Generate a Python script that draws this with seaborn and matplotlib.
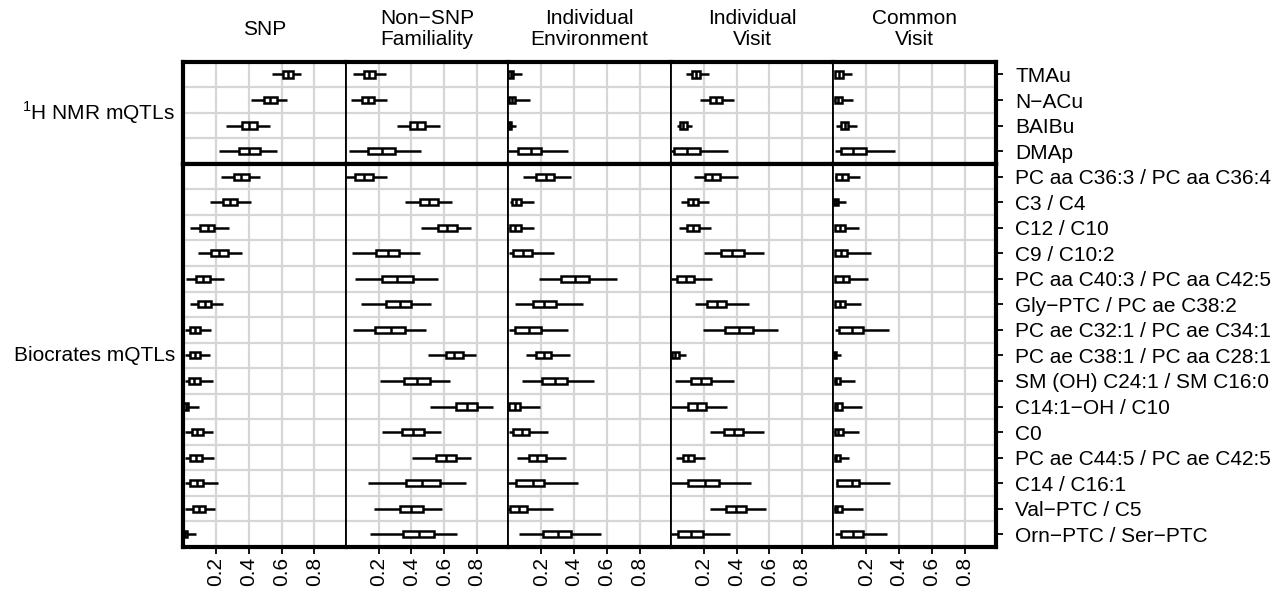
import numpy as np
import pandas as pd
import matplotlib
matplotlib.use("Agg")
import matplotlib.pyplot as plt
import seaborn as sns

M = "\u2212"  # R-style minus sign

nmr_metabolites = ["TMAu", f"N{M}ACu", "BAIBu", "DMAp"]
biocrates_metabolites = [
    "PC aa C36:3 / PC aa C36:4", "C3 / C4", "C12 / C10", "C9 / C10:2",
    "PC aa C40:3 / PC aa C42:5", f"Gly{M}PTC / PC ae C38:2",
    "PC ae C32:1 / PC ae C34:1", "PC ae C38:1 / PC aa C28:1",
    "SM (OH) C24:1 / SM C16:0", f"C14:1{M}OH / C10", "C0",
    "PC ae C44:5 / PC ae C42:5", "C14 / C16:1", f"Val{M}PTC / C5",
    f"Orn{M}PTC / Ser{M}PTC",
]
metabolites = nmr_metabolites + biocrates_metabolites
groups = ["$^{1}$H NMR mQTLs", "Biocrates mQTLs"]
components = ["SNP", f"Non{M}SNP\nFamiliality", "Individual\nEnvironment",
              "Individual\nVisit", "Common\nVisit"]

# per metabolite: whisker low, lower quartile, median, upper quartile, whisker high
snp = [
    (0.54, 0.61, 0.64, 0.67, 0.72), (0.41, 0.49, 0.53, 0.57, 0.63),
    (0.26, 0.355, 0.40, 0.45, 0.53), (0.22, 0.34, 0.40, 0.47, 0.57),
    (0.23, 0.31, 0.35, 0.40, 0.47), (0.16, 0.24, 0.285, 0.33, 0.41),
    (0.043, 0.10, 0.15, 0.19, 0.28), (0.09, 0.17, 0.22, 0.27, 0.36),
    (0.018, 0.08, 0.12, 0.165, 0.25), (0.04, 0.09, 0.13, 0.17, 0.24),
    (0.012, 0.04, 0.07, 0.10, 0.17), (0.012, 0.043, 0.07, 0.10, 0.165),
    (0.012, 0.035, 0.067, 0.10, 0.18), (0.0, 0.0, 0.018, 0.03, 0.094),
    (0.012, 0.053, 0.084, 0.12, 0.18), (0.012, 0.043, 0.08, 0.116, 0.19),
    (0.012, 0.043, 0.084, 0.12, 0.21), (0.012, 0.057, 0.094, 0.13, 0.196),
    (0.0, 0.0, 0.01, 0.02, 0.078),
]
non_snp = [
    (0.043, 0.11, 0.143, 0.18, 0.247), (0.033, 0.096, 0.135, 0.173, 0.25),
    (0.314, 0.39, 0.435, 0.48, 0.573), (0.018, 0.133, 0.222, 0.30, 0.46),
    (0.0, 0.057, 0.112, 0.167, 0.25), (0.36, 0.453, 0.506, 0.56, 0.65),
    (0.457, 0.563, 0.62, 0.675, 0.763), (0.039, 0.186, 0.257, 0.324, 0.45),
    (0.053, 0.22, 0.314, 0.41, 0.56), (0.094, 0.247, 0.33, 0.40, 0.52),
    (0.043, 0.18, 0.273, 0.36, 0.49), (0.50, 0.61, 0.66, 0.716, 0.794),
    (0.21, 0.357, 0.435, 0.512, 0.635), (0.516, 0.67, 0.737, 0.80, 0.90),
    (0.22, 0.343, 0.41, 0.476, 0.58), (0.404, 0.55, 0.61, 0.67, 0.763),
    (0.137, 0.367, 0.467, 0.573, 0.733), (0.173, 0.333, 0.40, 0.47, 0.588),
    (0.149, 0.35, 0.445, 0.537, 0.678),
]
ind_env = [
    (0.0, 0.0, 0.014, 0.03, 0.084), (0.0, 0.006, 0.022, 0.043, 0.13),
    (0.0, 0.0, 0.01, 0.018, 0.047), (0.0, 0.057, 0.135, 0.20, 0.363),
    (0.088, 0.17, 0.227, 0.28, 0.38), (0.01, 0.022, 0.049, 0.078, 0.157),
    (0.006, 0.01, 0.043, 0.076, 0.157), (0.006, 0.027, 0.09, 0.145, 0.278),
    (0.186, 0.32, 0.406, 0.49, 0.66), (0.039, 0.149, 0.22, 0.288, 0.455),
    (0.006, 0.043, 0.128, 0.20, 0.363), (0.11, 0.17, 0.216, 0.26, 0.373),
    (0.084, 0.204, 0.284, 0.355, 0.522), (0.0, 0.006, 0.039, 0.071, 0.19),
    (0.006, 0.027, 0.08, 0.128, 0.243), (0.053, 0.124, 0.176, 0.227, 0.353),
    (0.0, 0.047, 0.149, 0.216, 0.426), (0.0, 0.01, 0.063, 0.114, 0.27),
    (0.067, 0.208, 0.30, 0.38, 0.563),
]
ind_visit = [
    (0.09, 0.128, 0.155, 0.18, 0.23), (0.18, 0.24, 0.275, 0.31, 0.384),
    (0.039, 0.055, 0.075, 0.096, 0.128), (0.0, 0.018, 0.098, 0.175, 0.345),
    (0.14, 0.206, 0.253, 0.30, 0.406), (0.063, 0.104, 0.135, 0.167, 0.23),
    (0.049, 0.098, 0.137, 0.173, 0.247), (0.20, 0.308, 0.375, 0.443, 0.57),
    (0.0, 0.039, 0.09, 0.139, 0.253), (0.145, 0.222, 0.278, 0.333, 0.475),
    (0.198, 0.33, 0.414, 0.498, 0.655), (0.0, 0.006, 0.027, 0.049, 0.094),
    (0.027, 0.124, 0.184, 0.243, 0.384), (0.0, 0.104, 0.161, 0.216, 0.339),
    (0.237, 0.324, 0.382, 0.44, 0.57), (0.029, 0.073, 0.104, 0.139, 0.21),
    (0.0, 0.104, 0.21, 0.294, 0.486), (0.24, 0.337, 0.398, 0.457, 0.582),
    (0.0, 0.043, 0.12, 0.198, 0.36),
]
common_visit = [
    (0.006, 0.01, 0.033, 0.057, 0.114), (0.0, 0.006, 0.027, 0.049, 0.12),
    (0.018, 0.047, 0.067, 0.09, 0.145), (0.006, 0.043, 0.12, 0.198, 0.373),
    (0.01, 0.014, 0.049, 0.086, 0.16), (0.0, 0.0, 0.014, 0.027, 0.076),
    (0.006, 0.01, 0.039, 0.069, 0.157), (0.006, 0.01, 0.047, 0.084, 0.226),
    (0.006, 0.01, 0.057, 0.094, 0.212), (0.006, 0.01, 0.039, 0.067, 0.165),
    (0.01, 0.031, 0.114, 0.178, 0.339), (0.0, 0.0, 0.008, 0.016, 0.047),
    (0.0, 0.006, 0.018, 0.039, 0.128), (0.0, 0.006, 0.022, 0.053, 0.171),
    (0.0, 0.006, 0.027, 0.055, 0.157), (0.0, 0.006, 0.018, 0.039, 0.096),
    (0.014, 0.022, 0.11, 0.153, 0.345), (0.0, 0.006, 0.022, 0.053, 0.178),
    (0.01, 0.047, 0.116, 0.178, 0.325),
]
summaries = [snp, non_snp, ind_env, ind_visit, common_visit]
x_ticks = [0.2, 0.4, 0.6, 0.8]

sns.set_theme(style="white", rc={
    "text.color": "black", "xtick.color": "black", "ytick.color": "black",
    "axes.edgecolor": "black",
})
plt.rcParams["font.family"] = ["Liberation Sans", "DejaVu Sans"]
plt.rcParams["font.size"] = 15
plt.rcParams["mathtext.fontset"] = "custom"
plt.rcParams["mathtext.rm"] = "Liberation Sans"

# long table: the five summary values of each box as plain observations
rows = []
for comp, summ in zip(components, summaries):
    for met, five in zip(metabolites, summ):
        grp = groups[0] if met in nmr_metabolites else groups[1]
        for v in five:
            rows.append((comp, grp, met, v))
df = pd.DataFrame(rows, columns=["component", "group", "metabolite", "value"])

fig, axes = plt.subplots(
    2, 5, figsize=(12.88, 5.92), dpi=100, sharex=True,
    gridspec_kw=dict(height_ratios=[4, 15], hspace=0, wspace=0,
                     left=0.1421, right=0.7731, top=0.8958, bottom=0.0760),
)

grid_col = "#d6d6d6"
for r, (grp, order) in enumerate(zip(groups, [nmr_metabolites, biocrates_metabolites])):
    n = len(order)
    for c, comp in enumerate(components):
        ax = axes[r, c]
        sub = df[(df.component == comp) & (df.group == grp)]
        sns.boxplot(data=sub, x="value", y="metabolite", order=order,
                    whis=(0, 100), width=0.24, color="white", linecolor="black",
                    linewidth=1.8, showcaps=False, showfliers=False, ax=ax)
        ax.set_xlim(-0.002, 0.99)
        ax.set_ylim(n - 0.5, -0.5)
        ax.set_xlabel("")
        ax.set_ylabel("")
        ax.set_xticks(x_ticks)
        ax.set_yticks(np.arange(n - 1) + 0.5, minor=True)
        ax.set_axisbelow(True)
        ax.xaxis.grid(True, which="major", color=grid_col, lw=1.6)
        ax.yaxis.grid(True, which="minor", color=grid_col, lw=1.6)
        ax.yaxis.grid(False, which="major")
        ax.tick_params(axis="y", which="minor", length=0)

        if c == 4:
            ax.yaxis.tick_right()
            ax.tick_params(axis="y", which="major", right=True, left=False,
                           labelright=True, labelleft=False, direction="out",
                           length=5, width=1.3, pad=9, labelsize=15)
        else:
            ax.tick_params(axis="y", which="major", left=False, right=False,
                           labelleft=False, labelright=False)

        if r == 1:
            ax.tick_params(axis="x", bottom=True, direction="out", length=5,
                           width=1.3, pad=2, labelsize=15, labelrotation=90)
        else:
            ax.tick_params(axis="x", bottom=False, labelbottom=False)

        for side in ["left", "right", "top", "bottom"]:
            ax.spines[side].set_color("black")
            ax.spines[side].set_linewidth(1.3)
        ax.spines["top"].set_linewidth(3.0)
        ax.spines["bottom"].set_linewidth(3.0)
        if c == 0:
            ax.spines["left"].set_linewidth(3.0)
        if c == 4:
            ax.spines["right"].set_linewidth(3.0)

    axes[r, 0].annotate(grp, xy=(0, 0.5), xycoords="axes fraction",
                        xytext=(-8, 0), textcoords="offset pixels",
                        ha="right", va="center", fontsize=15)

for c, comp in enumerate(components):
    axes[0, c].text(0.5, 1 + 32 / 101, comp, transform=axes[0, c].transAxes,
                    ha="center", va="center", fontsize=15, linespacing=1.15)

fig.savefig("out.png", dpi=100)
